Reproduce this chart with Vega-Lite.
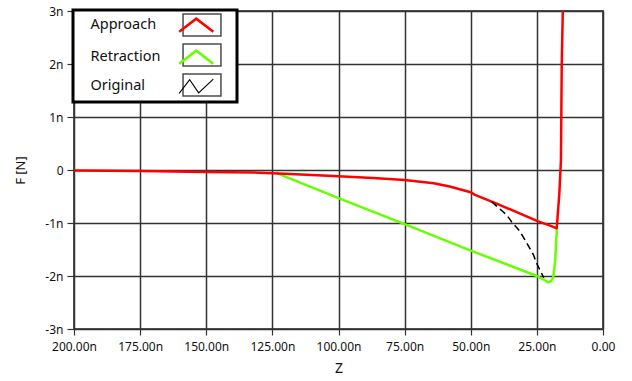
{
  "$schema": "https://vega.github.io/schema/vega-lite/v6.json",
  "width": 529,
  "height": 318,
  "autosize": "none",
  "padding": {"left": 74, "top": 11, "right": 29, "bottom": 52},
  "background": "white",
  "config": {
    "view": {"stroke": "#555555", "strokeWidth": 2},
    "legend": {"strokeWidth": 3},
    "axis": {
      "grid": true,
      "gridColor": "#333333",
      "gridWidth": 1.5,
      "domain": false,
      "tickColor": "#333333",
      "tickWidth": 1.2,
      "labelFont": "Noto Sans",
      "labelFontSize": 12,
      "labelColor": "#111111",
      "labelOverlap": false,
      "labelFlush": false,
      "titleFont": "Noto Sans",
      "titleFontWeight": "normal",
      "titleColor": "#111111"
    }
  },
  "data": {
    "values": [
      {"series": "Retraction", "Z": 123.4, "F": -0.06},
      {"series": "Retraction", "Z": 100, "F": -0.53},
      {"series": "Retraction", "Z": 75, "F": -1.02},
      {"series": "Retraction", "Z": 50, "F": -1.52},
      {"series": "Retraction", "Z": 25, "F": -2.0},
      {"series": "Retraction", "Z": 22, "F": -2.08},
      {"series": "Retraction", "Z": 20.7, "F": -2.12},
      {"series": "Retraction", "Z": 19.5, "F": -2.09},
      {"series": "Retraction", "Z": 18.8, "F": -2.02},
      {"series": "Retraction", "Z": 18.1, "F": -1.73},
      {"series": "Retraction", "Z": 17.8, "F": -1.45},
      {"series": "Retraction", "Z": 17.5, "F": -1.16},
      {"series": "Retraction", "Z": 17.4, "F": -1.1},
      {"series": "Approach", "Z": 200, "F": -0.01},
      {"series": "Approach", "Z": 175, "F": -0.02},
      {"series": "Approach", "Z": 150, "F": -0.04},
      {"series": "Approach", "Z": 130, "F": -0.05},
      {"series": "Approach", "Z": 125, "F": -0.06},
      {"series": "Approach", "Z": 112, "F": -0.09},
      {"series": "Approach", "Z": 100, "F": -0.12},
      {"series": "Approach", "Z": 87, "F": -0.15},
      {"series": "Approach", "Z": 75, "F": -0.19},
      {"series": "Approach", "Z": 64, "F": -0.25},
      {"series": "Approach", "Z": 58, "F": -0.31},
      {"series": "Approach", "Z": 50, "F": -0.42},
      {"series": "Approach", "Z": 48.4, "F": -0.47},
      {"series": "Approach", "Z": 40, "F": -0.64},
      {"series": "Approach", "Z": 30, "F": -0.85},
      {"series": "Approach", "Z": 24.5, "F": -0.97},
      {"series": "Approach", "Z": 20, "F": -1.05},
      {"series": "Approach", "Z": 17.5, "F": -1.1},
      {"series": "Approach", "Z": 16.5, "F": -0.44},
      {"series": "Approach", "Z": 15.9, "F": 0.19},
      {"series": "Approach", "Z": 15.6, "F": 2.0},
      {"series": "Approach", "Z": 15.2, "F": 3.0},
      {"series": "Approach", "Z": 15.0, "F": 3.4},
      {"series": "Original", "Z": 42.1, "F": -0.6},
      {"series": "Original", "Z": 36.4, "F": -0.85},
      {"series": "Original", "Z": 34.5, "F": -0.98},
      {"series": "Original", "Z": 31.4, "F": -1.16},
      {"series": "Original", "Z": 29.5, "F": -1.32},
      {"series": "Original", "Z": 26.3, "F": -1.6},
      {"series": "Original", "Z": 25.1, "F": -1.76},
      {"series": "Original", "Z": 22.4, "F": -2.03}
    ]
  },
  "encoding": {
    "x": {
      "field": "Z",
      "type": "quantitative",
      "title": "Z",
      "scale": {"domain": [0, 200], "reverse": true, "nice": false, "zero": false},
      "axis": {
        "values": [0, 25, 50, 75, 100, 125, 150, 175, 200],
        "labelExpr": "datum.value == 0 ? '0.00' : format(datum.value, '.2f') + 'n'",
        "tickSize": 6,
        "labelPadding": 6,
        "titleFontSize": 14,
        "titlePadding": 9
      }
    },
    "y": {
      "field": "F",
      "type": "quantitative",
      "title": "F [N]",
      "scale": {"domain": [-3, 3], "nice": false},
      "axis": {
        "values": [-3, -2, -1, 0, 1, 2, 3],
        "labelExpr": "datum.value == 0 ? '0' : datum.value + 'n'",
        "tickSize": 7,
        "labelPadding": 4,
        "titleFontSize": 13,
        "titlePadding": 17
      }
    }
  },
  "layer": [
    {
      "transform": [{"filter": "datum.series !== 'Original'"}],
      "mark": {"type": "line", "clip": true, "strokeJoin": "round", "strokeWidth": 2.5},
      "encoding": {
        "stroke": {
          "field": "series",
          "type": "nominal",
          "scale": {"domain": ["Approach", "Retraction", "Original"], "range": ["#ff0000", "#66ff00", "#000000"]},
          "legend": {
            "orient": "none",
            "legendX": -1,
            "legendY": 5,
            "zindex": 5,
            "title": null,
            "padding": 2,
            "rowPadding": 0,
            "symbolOffset": 114,
            "labelOffset": -113,
            "symbolSize": 576,
            "symbolType": "M-1.538,0M2.458,0M0,-0.88M0,0.88M-1.42,0.55L0,-0.55L1.42,0.55",
            "symbolStrokeWidth": 2.5,
            "labelFont": "Noto Sans",
            "labelFontSize": 14.5,
            "labelColor": "#111111",
            "encode": {
              "symbols": {
                "update": {
                  "shape": {"signal": "datum.value === 'Original' ? 'M-1.538,0M2.458,0M0,-0.88M0,0.88M-1.42,0.6L-0.55,-0.55L0.2,0.55L1.42,-0.6' : 'M-1.538,0M2.458,0M0,-0.88M0,0.88M-1.42,0.55L0,-0.55L1.42,0.55'"},
                  "strokeWidth": {"signal": "datum.value === 'Original' ? 1.1 : 2.5"},
                  "strokeDash": {"value": []}
                }
              }
            }
          }
        }
      }
    },
    {
      "transform": [{"filter": "datum.series === 'Original'"}],
      "mark": {"type": "line", "clip": true, "strokeJoin": "round", "strokeWidth": 1.5, "strokeDash": [7, 4]},
      "encoding": {
        "stroke": {
          "field": "series",
          "type": "nominal",
          "scale": {"domain": ["Approach", "Retraction", "Original"], "range": ["#ff0000", "#66ff00", "#000000"]},
          "legend": null
        }
      }
    },
    {
      "transform": [{"filter": "false"}],
      "mark": {"type": "point", "filled": false, "color": "black", "strokeWidth": 1.5},
      "encoding": {
        "shape": {
          "field": "series",
          "type": "nominal",
          "scale": {
            "domain": ["Original", "Retraction", "Approach"],
            "range": ["M-1.58,-0.92H1.58V0.92H-1.58ZM2.5,0", "M-1.58,-0.92H1.58V0.92H-1.58ZM2.5,0", "M-1.58,-0.92H1.58V0.92H-1.58ZM2.5,0"]
          },
          "legend": {
            "orient": "none",
            "legendX": -1,
            "legendY": -1,
            "zindex": 1,
            "title": null,
            "values": ["Approach", "Retraction", "Original"],
            "padding": 2,
            "rowPadding": 0,
            "symbolOffset": 114,
            "labelOffset": -113,
            "symbolSize": 576,
            "symbolStrokeWidth": 1.5,
            "symbolStrokeColor": "black",
            "labelFont": "Noto Sans",
            "labelFontSize": 14.5,
            "labelColor": "transparent",
            "fillColor": "white",
            "strokeColor": "black",
            "encode": {"legend": {"update": {"strokeWidth": {"value": 3}, "stroke": {"value": "black"}}}}
          }
        }
      }
    }
  ]
}
